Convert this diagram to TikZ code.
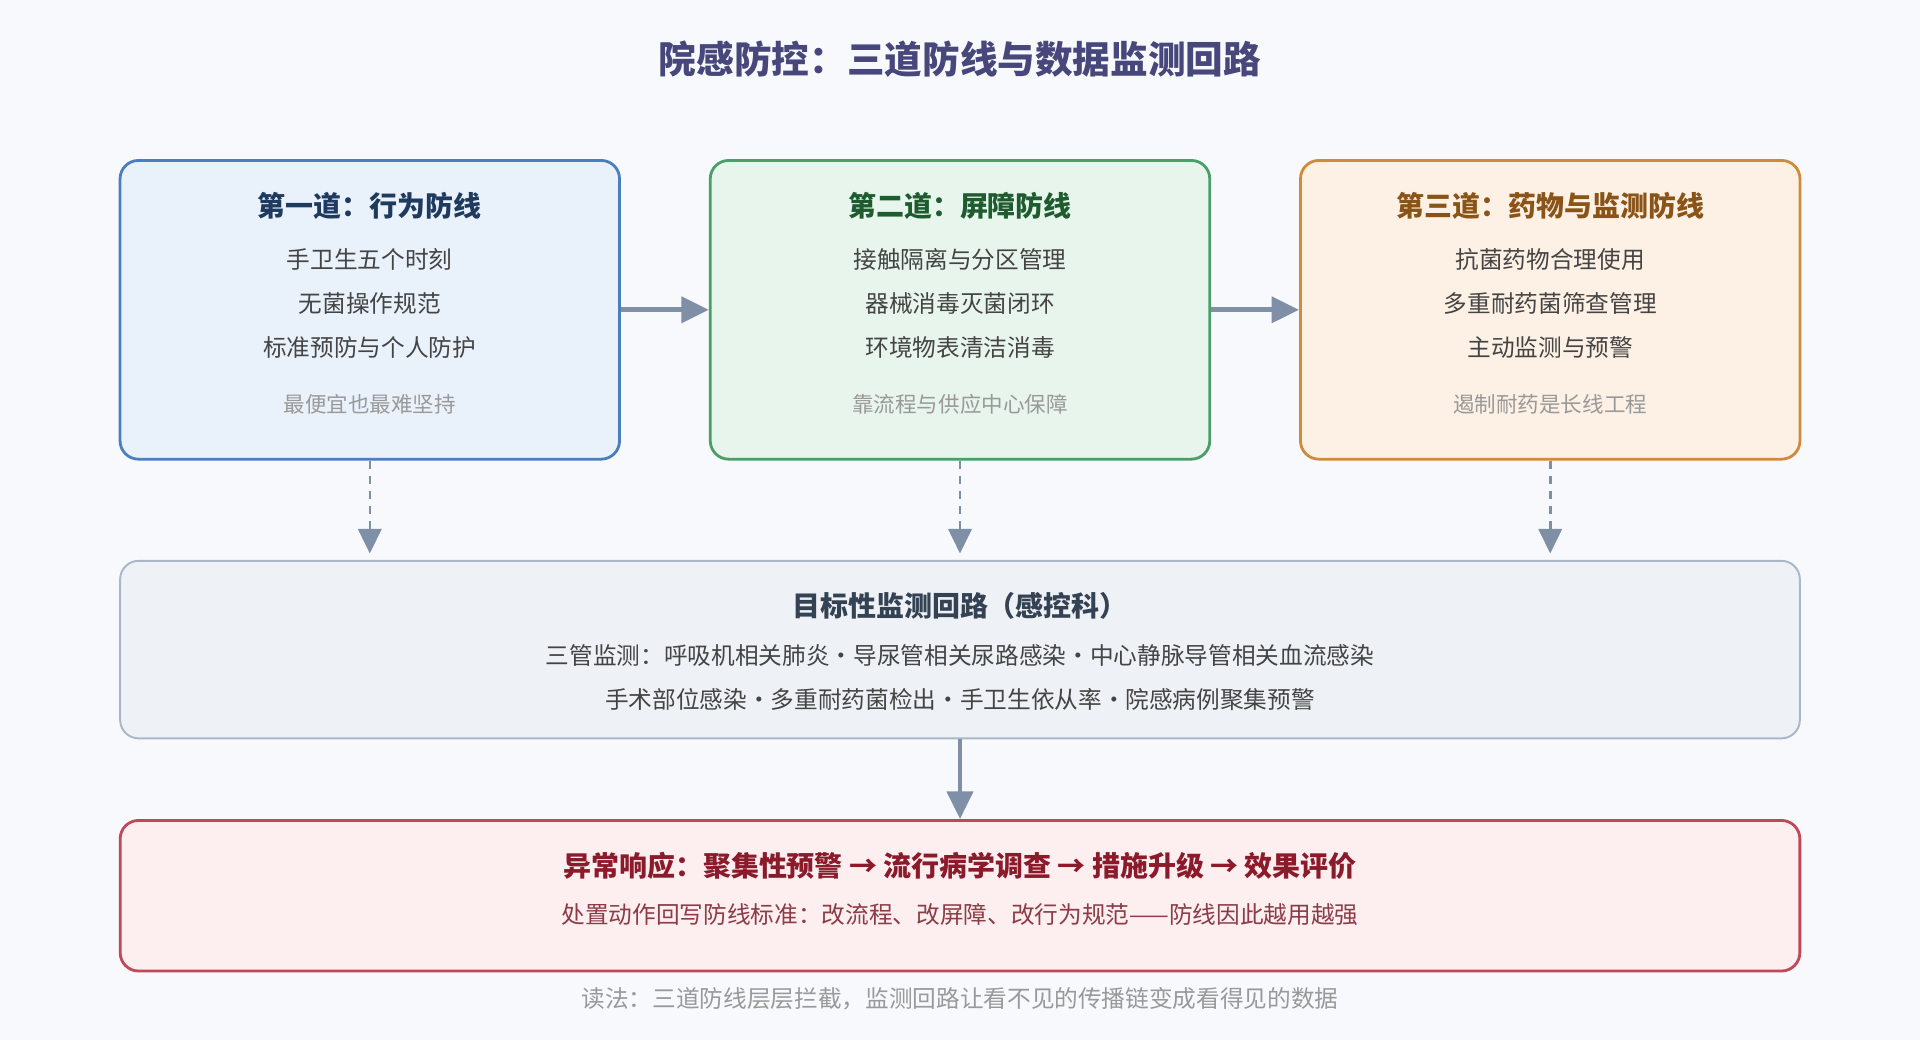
\documentclass[tikz,border=0pt]{standalone}
\usepackage{fontspec}
\setmainfont{Noto Sans CJK SC}
\usetikzlibrary{arrows.meta}
\definecolor{bgc}{HTML}{F7F9FC}
\definecolor{ink}{HTML}{444444}
\definecolor{note}{HTML}{999999}
\definecolor{arr}{HTML}{7F8FA6}
\tikzset{>={Triangle[length=4.5mm, width=4.2mm]}}
\tikzset{card/.style={rounded corners=3mm, line width=1.3pt, minimum width=8.16cm, minimum height=4.88cm}}
\tikzset{head/.style={font=\fontsize{13}{15}\selectfont\bfseries}}
\tikzset{item/.style={font=\fontsize{11}{13}\selectfont, text=ink}}
\tikzset{hint/.style={font=\fontsize{10}{12}\selectfont, text=note}}
\tikzset{flow/.style={arr, line width=2.2pt, ->}}
\tikzset{feed/.style={arr, line width=1.2pt, dash pattern=on 4pt off 3pt, -{Triangle[length=4mm, width=3.8mm]}}}
\begin{document}
\begin{tikzpicture}[x=0.02cm, y=-0.02cm]
	\fill[bgc] (0,0) rectangle (1568,849);
	\useasboundingbox (0,0) rectangle (1568,849);

	% Title
	\node[font=\fontsize{17.5}{20}\selectfont\bfseries, text=black!15!blue!30!gray!80!black] (title) at (784,48) {院感防控：三道防线与数据监测回路};

	% Three lines of defence
	\node[card, draw={rgb,255:red,74;green,126;blue,191}, fill={rgb,255:red,233;green,241;blue,251}] (behav) at (302,253) {};
	\node[card, draw={rgb,255:red,74;green,158;blue,104}, fill={rgb,255:red,232;green,245;blue,236}] (barrier) at (784,253) {};
	\node[card, draw={rgb,255:red,208;green,138;blue,58}, fill={rgb,255:red,253;green,240;blue,228}] (drug) at (1266,253) {};

	\node[head, text={rgb,255:red,31;green,58;blue,95}] (behavT) at (302,168) {第一道：行为防线};
	\node[item] (behavA) at (302,212) {手卫生五个时刻};
	\node[item] (behavB) at (302,248) {无菌操作规范};
	\node[item] (behavC) at (302,284) {标准预防与个人防护};
	\node[hint] (behavN) at (302,330) {最便宜也最难坚持};

	\node[head, text={rgb,255:red,30;green,92;blue,48}] (barrierT) at (784,168) {第二道：屏障防线};
	\node[item] (barrierA) at (784,212) {接触隔离与分区管理};
	\node[item] (barrierB) at (784,248) {器械消毒灭菌闭环};
	\node[item] (barrierC) at (784,284) {环境物表清洁消毒};
	\node[hint] (barrierN) at (784,330) {靠流程与供应中心保障};

	\node[head, text={rgb,255:red,138;green,84;blue,24}] (drugT) at (1266,168) {第三道：药物与监测防线};
	\node[item] (drugA) at (1266,212) {抗菌药物合理使用};
	\node[item] (drugB) at (1266,248) {多重耐药菌筛查管理};
	\node[item] (drugC) at (1266,284) {主动监测与预警};
	\node[hint] (drugN) at (1266,330) {遏制耐药是长线工程};

	% Monitoring loop
	\node[card, minimum width=27.44cm, minimum height=2.9cm, line width=0.9pt, draw={rgb,255:red,168;green,184;blue,200}, fill={rgb,255:red,238;green,242;blue,246}] (loop) at (784,530.5) {};
	\node[head, text={rgb,255:red,52;green,66;blue,84}] (loopT) at (784,495) {目标性监测回路（感控科）};
	\node[item] (loopA) at (784,535) {三管监测：呼吸机相关肺炎·导尿管相关尿路感染·中心静脉导管相关血流感染};
	\node[item] (loopB) at (784,571) {手术部位感染·多重耐药菌检出·手卫生依从率·院感病例聚集预警};

	% Response
	\node[card, minimum width=27.44cm, minimum height=2.46cm, draw={rgb,255:red,192;green,72;blue,90}, fill={rgb,255:red,253;green,238;blue,239}] (resp) at (784,731.5) {};
	\node[head, text={rgb,255:red,139;green,26;blue,42}] (respT) at (784,707) {异常响应：聚集性预警 → 流行病学调查 → 措施升级 → 效果评价};
	\node[item, text={rgb,255:red,139;green,60;blue,70}] (respA) at (784,747) {处置动作回写防线标准：改流程、改屏障、改行为规范——防线因此越用越强};

	% Footer
	\node[font=\fontsize{11}{13}\selectfont, text=note] (foot) at (784,816) {读法：三道防线层层拦截，监测回路让看不见的传播链变成看得见的数据};

	% Connectors
	\draw[flow] (behav.east) -- (barrier.west);
	\draw[flow] (barrier.east) -- (drug.west);
	\foreach \n in {behav, barrier, drug}
	{
		\draw[feed] (\n.south) -- (\n.south |- 0,452);
	}
	\draw[flow] (loop.south) -- (resp.north);
\end{tikzpicture}
\end{document}
